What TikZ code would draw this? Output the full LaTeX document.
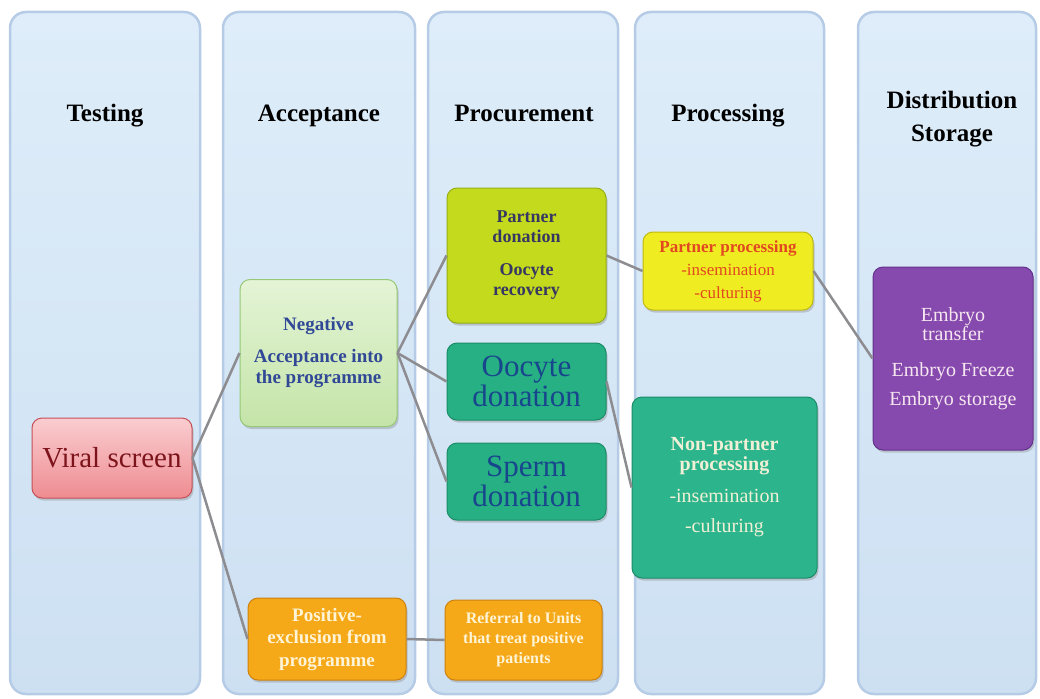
\documentclass[tikz,border=0pt]{standalone}
\usepackage{fontspec}
\setmainfont{Liberation Serif}
\usetikzlibrary{shadows}

\definecolor{lanefill}{RGB}{205,224,242}
\definecolor{lanetop}{RGB}{222,237,249}
\definecolor{laneline}{RGB}{182,204,230}
\definecolor{linkgray}{RGB}{140,140,145}
\definecolor{viralfill}{RGB}{238,140,145}
\definecolor{viraltop}{RGB}{250,205,208}
\definecolor{viralline}{RGB}{196,80,88}
\definecolor{viraltext}{RGB}{125,20,28}
\definecolor{negfill}{RGB}{196,228,168}
\definecolor{negtop}{RGB}{228,244,214}
\definecolor{negline}{RGB}{150,200,118}
\definecolor{negtext}{RGB}{48,72,150}
\definecolor{pdonfill}{RGB}{196,218,28}
\definecolor{pdonline}{RGB}{150,175,20}
\definecolor{pdontext}{RGB}{55,55,100}
\definecolor{donfill}{RGB}{38,176,132}
\definecolor{donline}{RGB}{28,140,104}
\definecolor{dontext}{RGB}{24,70,140}
\definecolor{pprocfill}{RGB}{240,236,34}
\definecolor{pprocline}{RGB}{190,185,20}
\definecolor{pproctext}{RGB}{226,72,32}
\definecolor{npfill}{RGB}{44,180,140}
\definecolor{nptext}{RGB}{240,240,214}
\definecolor{embfill}{RGB}{134,74,174}
\definecolor{embline}{RGB}{100,50,140}
\definecolor{embtext}{RGB}{246,230,240}
\definecolor{posfill}{RGB}{245,168,24}
\definecolor{posline}{RGB}{205,130,15}
\definecolor{postext}{RGB}{255,244,214}

\begin{document}
\begin{tikzpicture}[x=1pt, y=-1pt,
  lane/.style={draw=laneline, line width=2.5pt, rounded corners=16pt,
    top color=lanetop, bottom color=lanefill,
    minimum width=#1, minimum height=682pt, inner sep=0pt},
  lanetitle/.style={align=center, text height=0.75em, text depth=0.25em,
    font=\fontsize{25}{33}\selectfont\bfseries},
  box/.style={rounded corners=10pt, align=center, inner sep=2pt, line width=1pt,
    drop shadow={opacity=0.35, shadow xshift=1.5pt, shadow yshift=-2.5pt}},
  link/.style={draw=linkgray, line width=2.5pt}]

\useasboundingbox (0,0) rectangle (1040,698);

% the five stages
\node[lane=190pt] (lane1) at (105,353) {};
\node[lane=192pt] (lane2) at (319,353) {};
\node[lane=190pt] (lane3) at (523,353) {};
\node[lane=189pt] (lane4) at (729.5,353) {};
\node[lane=178pt] (lane5) at (947,353) {};

\node[lanetitle] (ttest) at (105,119) {Testing};
\node[lanetitle] (taccept) at (319,119) {Acceptance};
\node[lanetitle] (tprocure) at (524,119) {Procurement};
\node[lanetitle] (tprocess) at (728,119) {Processing};
\node[lanetitle] (tstore) at (952,139) {Distribution\\Storage};

% boxes
\node[box, draw=viralline, top color=viraltop, bottom color=viralfill, text=viraltext,
  minimum width=160pt, minimum height=80pt, font=\fontsize{29}{32}\selectfont]
  (viral) at (112,458) {Viral screen};

\node[box, draw=negline, top color=negtop, bottom color=negfill, text=negtext,
  minimum width=157pt, minimum height=147pt, font=\fontsize{19}{21}\selectfont\bfseries]
  (neg) at (318.5,353) {Negative\\[11pt]Acceptance into\\the programme};

\node[box, draw=pdonline, fill=pdonfill, text=pdontext,
  minimum width=159pt, minimum height=135pt, font=\fontsize{18}{20}\selectfont\bfseries]
  (pdon) at (526.5,255.5) {Partner\\donation\\[13pt]Oocyte\\recovery};

\node[box, draw=donline, fill=donfill, text=dontext,
  minimum width=159pt, minimum height=77pt, font=\fontsize{31}{30}\selectfont]
  (odon) at (526.5,381.5) {Oocyte\\donation};

\node[box, draw=donline, fill=donfill, text=dontext,
  minimum width=159pt, minimum height=77pt, font=\fontsize{31}{30}\selectfont]
  (sdon) at (526.5,481.5) {Sperm\\donation};

\node[box, draw=pprocline, fill=pprocfill, text=pproctext,
  minimum width=170pt, minimum height=78pt, font=\fontsize{17}{23}\selectfont]
  (pproc) at (728,271) {\textbf{Partner processing}\\-insemination\\-culturing};

\node[box, draw=donline, fill=npfill, text=nptext,
  minimum width=185pt, minimum height=181pt, font=\fontsize{20}{20}\selectfont]
  (npproc) at (724.5,487.5) {\textbf{Non-partner}\\\textbf{processing}\\[12pt]-insemination\\[10pt]-culturing};

\node[box, draw=embline, fill=embfill, text=embtext,
  minimum width=160pt, minimum height=183pt, font=\fontsize{20}{18}\selectfont]
  (embryo) at (953,358.5) {Embryo\\transfer\\[18pt]Embryo Freeze\\[9pt]Embryo storage};

\node[box, draw=posline, fill=posfill, text=postext,
  minimum width=158pt, minimum height=82pt, font=\fontsize{19}{22.5}\selectfont\bfseries]
  (pos) at (327,639) {Positive-\\exclusion from\\programme};

\node[box, draw=posline, fill=posfill, text=postext,
  minimum width=157pt, minimum height=80pt, font=\fontsize{16}{20}\selectfont\bfseries]
  (referral) at (523.5,640) {Referral to Units\\that treat positive\\patients};

% connectors
\draw[link] (viral.east) -- (neg.west);
\draw[link] (viral.east) -- (pos.west);
\draw[link] (neg.east) -- (pdon.west);
\draw[link] (neg.east) -- (odon.west);
\draw[link] (neg.east) -- (sdon.west);
\draw[link] (pdon.east) -- (pproc.west);
\draw[link] (odon.east) -- (npproc.west);
\draw[link] (pproc.east) -- (embryo.west);
\draw[link] (pos.east) -- (referral.west);

\end{tikzpicture}
\end{document}
